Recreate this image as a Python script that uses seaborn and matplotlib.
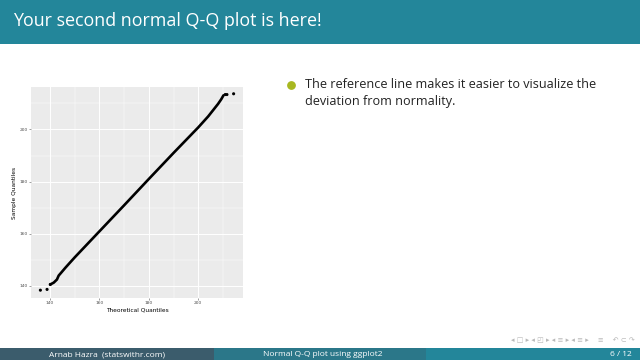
import matplotlib
matplotlib.use("Agg")
import matplotlib.pyplot as plt
import seaborn as sns
import pandas as pd

# dense part of the Q-Q curve
theo_dense = [140.1, 141.5, 142.8, 143.5, 144.5, 146.2, 148.0, 150.0, 160.0,
              170.0, 180.0, 190.0, 200.0, 202.0, 204.0, 206.0, 208.0, 209.3,
              210.2]
samp_dense = [140.5, 141.2, 142.4, 143.9, 145.0, 146.9, 148.8, 150.9, 160.9,
              170.9, 181.0, 191.0, 200.8, 202.9, 205.0, 207.4, 209.8, 211.6,
              213.1]
# isolated points in the tails
theo_tail = [136.1, 138.8, 140.1, 210.9, 211.6, 214.3]
samp_tail = [138.3, 138.6, 140.5, 213.4, 213.4, 213.7]

ticks = [140, 160, 180, 200]
minor = [150, 170, 190, 210]

title = "Your second normal Q-Q plot is here!"
bullet_lines = ["The reference line makes it easier to visualize the",
                "deviation from normality."]
foot_left = "Arnab Hazra  (statswithr.com)"
foot_mid = "Normal Q-Q plot using ggplot2"
foot_right = "6 / 12"


def main():
    plt.rcParams['font.family'] = ["DejaVu Sans"]
    fig = plt.figure(figsize=(6.4, 3.6), dpi=100)
    fig.patch.set_facecolor("white")

    # slide background pieces
    bg = fig.add_axes([0, 0, 1, 1])
    bg.set_xlim(0, 640)
    bg.set_ylim(360, 0)
    bg.axis("off")
    bg.add_patch(plt.Rectangle((0, 0), 640, 44, color="#23869A", lw=0))
    bg.add_patch(plt.Rectangle((0, 348), 214, 12, color="#3B5C6C", lw=0))
    bg.add_patch(plt.Rectangle((214, 348), 212, 12, color="#2B7789", lw=0))
    bg.add_patch(plt.Rectangle((426, 348), 214, 12, color="#23869A", lw=0))
    bg.text(13, 21, title, color="white", fontsize=12.9, va="center",
            family="Open Sans")
    bg.text(107, 354.5, foot_left, color="white", fontsize=6, ha="center",
            va="center", family="Open Sans")
    bg.text(323, 354.5, foot_mid, color="white", fontsize=6, ha="center",
            va="center", family="Open Sans")
    bg.text(632, 354.5, foot_right, color="white", fontsize=6, ha="right",
            va="center", family="Open Sans")
    bg.text(635, 340, "◂ □ ▸ ◂ ◰ ▸ ◂ ≡ ▸ ◂ ≡ ▸    ≡    ↶ ⊂ ↷",
            color="#B8B8B8", fontsize=5, ha="right", va="center")
    bg.scatter([291], [85], s=28, color="#A8B820", zorder=3)
    for i, line in enumerate(bullet_lines):
        bg.text(305, 85 + i * 17, line, color="#222222", fontsize=9.1,
                va="center", family="Open Sans")

    # the ggplot-like Q-Q panel
    ax = fig.add_axes([31 / 640, 1 - 298 / 360, 212 / 640, 211 / 360])
    ax.set_facecolor("#EBEBEB")
    for s in ax.spines.values():
        s.set_visible(False)
    ax.set_xlim(132.3, 218.1)
    ax.set_ylim(135.3, 216.3)
    ax.set_xticks(ticks)
    ax.set_yticks(ticks)
    ax.set_xticks(minor, minor=True)
    ax.set_yticks(minor, minor=True)
    ax.grid(True, which="major", color="white", lw=0.7)
    ax.grid(True, which="minor", color="white", lw=0.35)
    ax.set_axisbelow(True)
    ax.tick_params(which="major", length=1.5, width=0.4, color="#555555",
                   labelsize=3.2, labelcolor="#4D4D4D", pad=1)
    ax.tick_params(which="minor", length=0)

    dense = pd.DataFrame({"x": theo_dense, "y": samp_dense})
    tail = pd.DataFrame({"x": theo_tail, "y": samp_tail})
    sns.lineplot(data=dense, x="x", y="y", ax=ax, color="black", lw=1.9,
                 sort=False, solid_capstyle="round")
    sns.scatterplot(data=tail, x="x", y="y", ax=ax, color="black", s=5,
                    edgecolor="none")
    ax.set_xlabel("Theoretical Quantiles", fontsize=4.2, labelpad=1.5)
    ax.set_ylabel("Sample Quantiles", fontsize=4.2, labelpad=1.5)

    fig.savefig("out.png", dpi=100)


if __name__ == "__main__":
    main()
